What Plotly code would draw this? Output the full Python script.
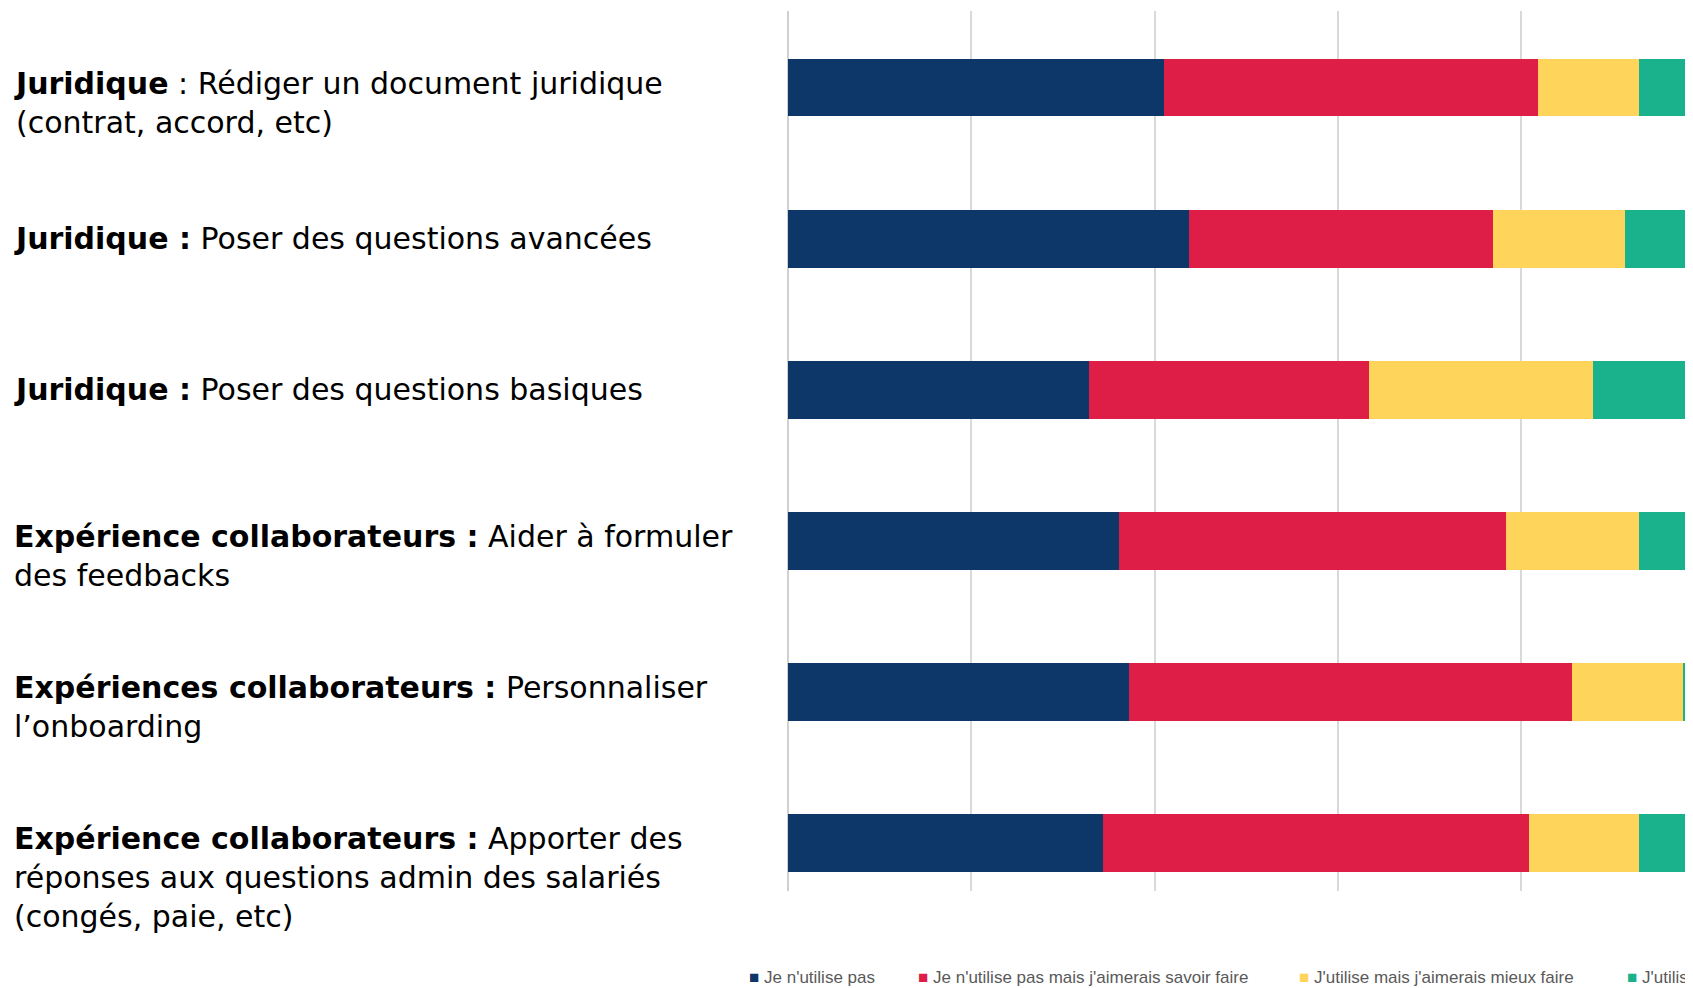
import plotly.graph_objects as go

categories = [
    "<b>Juridique</b> : Rédiger un document juridique<br>(contrat, accord, etc)",
    "<b>Juridique :</b> Poser des questions avancées",
    "<b>Juridique :</b> Poser des questions basiques",
    "<b>Expérience collaborateurs :</b> Aider à formuler<br>des feedbacks",
    "<b>Expériences collaborateurs :</b> Personnaliser<br>l’onboarding",
    "<b>Expérience collaborateurs :</b> Apporter des<br>réponses aux questions admin des salariés<br>(congés, paie, etc)",
]

series_names = [
    "Je n'utilise pas",
    "Je n'utilise pas mais j'aimerais savoir faire",
    "J'utilise mais j'aimerais mieux faire",
    "J'utilise et je maîtrise",
]
series_colors = ["#0d3669", "#df1e48", "#fed45a", "#1ab28c"]

je_nutilise_pas = [41.0, 43.7, 32.8, 36.1, 37.2, 34.4]
aimerais_savoir = [40.8, 33.2, 30.6, 42.2, 48.3, 46.4]
aimerais_mieux = [11.0, 14.4, 24.4, 14.5, 12.1, 12.0]
maitrise = [7.2, 8.7, 12.2, 7.2, 2.4, 7.2]

values = [je_nutilise_pas, aimerais_savoir, aimerais_mieux, maitrise]

# page has an 8px body margin; figure placed so the page coordinates match the source
OFF = 8
PAGE_W, PAGE_H = 1693, 988
W, H = PAGE_W - OFF, PAGE_H - OFF
ML, MR, MT, MB = 788 - OFF, 0, 11 - OFF, PAGE_H - 891
PW = W - ML - MR
PH = H - MT - MB

ids = list(range(len(categories)))

fig = go.Figure()
for name, color, vals in zip(series_names, series_colors, values):
    fig.add_trace(go.Bar(
        y=ids, x=vals, name=name, orientation="h",
        marker=dict(color=color, line=dict(width=0)),
        showlegend=False,
    ))

# category labels, left aligned
for i, lab in enumerate(categories):
    multi = "<br>" in lab
    fig.add_annotation(
        xref="paper", yref="y", x=-(ML - 4) / PW, y=i,
        text=lab, showarrow=False, xanchor="left",
        yanchor="top" if multi else "middle",
        align="left", yshift=24 if multi else 0,
        font=dict(family="DejaVu Sans, sans-serif", size=30, color="#000000"),
    )

# legend row drawn as text (last entry is cut by the right edge, as in the source)
legend_px = [750, 919, 1300, 1628]
legend_y_page = 977
for px, name, color in zip(legend_px, series_names, series_colors):
    left_fig = px - OFF - 3
    box_w = min(420, W - left_fig)
    fig.add_annotation(
        xref="paper", yref="paper", x=(left_fig - ML) / PW,
        y=-(legend_y_page - OFF - (H - MB)) / PH,
        text=f"<span style='color:{color}'>■</span> {name}",
        showarrow=False, xanchor="left", yanchor="middle", align="left",
        width=box_w,
        font=dict(family="Liberation Sans Narrow, Liberation Sans, sans-serif", size=17, color="#595959"),
    )

fig.update_layout(
    width=W, height=H,
    margin=dict(l=ML, r=MR, t=MT, b=MB),
    barmode="stack", bargap=0.618,
    plot_bgcolor="white", paper_bgcolor="white",
    xaxis=dict(range=[0, 98.72], dtick=20, showgrid=True, gridcolor="#d9d9d9",
               gridwidth=1.5, showticklabels=False, zeroline=True,
               zerolinecolor="#d0d0d0", zerolinewidth=1.5, showline=False, ticks=""),
    yaxis=dict(range=[5.316, -0.507], showticklabels=False, showgrid=False,
               zeroline=False, showline=False, ticks=""),
)

fig.write_html("out.html")
